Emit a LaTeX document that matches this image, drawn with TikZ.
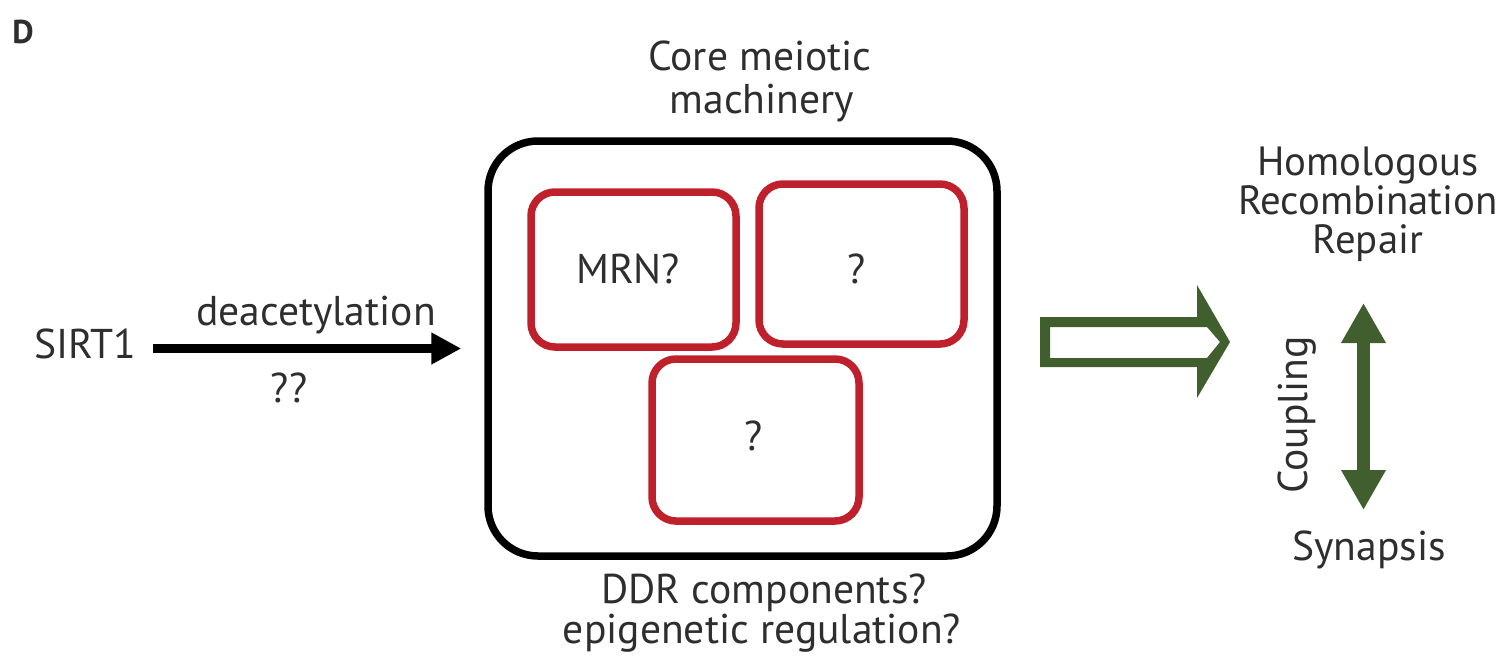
\documentclass[tikz,border=0pt]{standalone}
\usepackage{fontspec}
\setmainfont{PT Sans}
\usetikzlibrary{arrows.meta}
\definecolor{txt}{HTML}{2E2E2E}
\definecolor{boxred}{RGB}{190,32,44}
\definecolor{leaf}{RGB}{64,94,46}
\tikzset{
  lbl/.style={anchor=base, inner sep=0pt, text=txt, font=\fontsize{20.8}{23}\selectfont},
  outerbox/.style={draw=black, line width=3.75pt, rounded corners=25pt, minimum width=254.5pt, minimum height=207.5pt, inner sep=0pt},
  redbox/.style={draw=boxred, line width=3.75pt, rounded corners=12pt, inner sep=0pt},
  blackarrow/.style={line width=4.5pt, -{Triangle[length=15pt,width=15pt]}},
  greenarrow/.style={draw=leaf, line width=6.5pt, {Triangle[length=20pt,width=21pt]}-{Triangle[length=20pt,width=21pt]}}
}
\begin{document}
\begin{tikzpicture}[x=0.5pt,y=-0.5pt]
\useasboundingbox (0,0) rectangle (1512,671);
% panel letter
\node[lbl, anchor=base west, font=\fontsize{16.5}{18}\selectfont\bfseries] (panel) at (12,43) {D};
% left side
\node[lbl, anchor=base west] (sirt) at (34,358) {SIRT1};
\node[lbl] (deac) at (316,325) {deacetylation};
\node[lbl] (qq) at (289,402) {??};
% core box
\node[outerbox] (box) at (742.5,348.5) {};
\node[redbox, minimum width=102.5pt, minimum height=77.5pt] (mrn) at (633.5,269.5) {};
\node[redbox, minimum width=102.5pt, minimum height=80pt] (qa) at (861.5,264) {};
\node[redbox, minimum width=103.5pt, minimum height=81pt] (qb) at (755.5,440) {};
\node[lbl] (mrnt) at (628,283) {MRN?};
\node[lbl] (qat) at (857,283) {?};
\node[lbl] (qbt) at (754,450) {?};
\node[lbl] (core1) at (760,70) {Core meiotic};
\node[lbl] (core2) at (762,113) {machinery};
\node[lbl] (ddr1) at (764,603) {DDR components?};
\node[lbl] (ddr2) at (762,643) {epigenetic regulation?};
% SIRT1 arrow
\coordinate (aend) at ([xshift=-11.5pt]box.west);
\draw[blackarrow] ([xshift=8pt]sirt.east |- aend) -- (aend);
% hollow green arrow
\fill[leaf, even odd rule]
  (1040,317) -- (1197,317) -- (1197,285) -- (1230,342) -- (1197,398) -- (1197,367) -- (1040,367) -- cycle
  (1050,327) -- (1207,327) -- (1220,342) -- (1207,358) -- (1050,358) -- cycle;
% right side
\node[lbl, align=center, font=\fontsize{20.4}{19.5}\selectfont] (hr) at (1368,253) {Homologous\\Recombination\\Repair};
\node[lbl] (syn) at (1369,560) {Synapsis};
\node[lbl, rotate=90] (coup) at (1307,415) {Coupling};
\coordinate (ctop) at (1363.5,303);
\coordinate (cbot) at (1363.5,510);
\draw[greenarrow] (ctop) -- (cbot);
\end{tikzpicture}
\end{document}
